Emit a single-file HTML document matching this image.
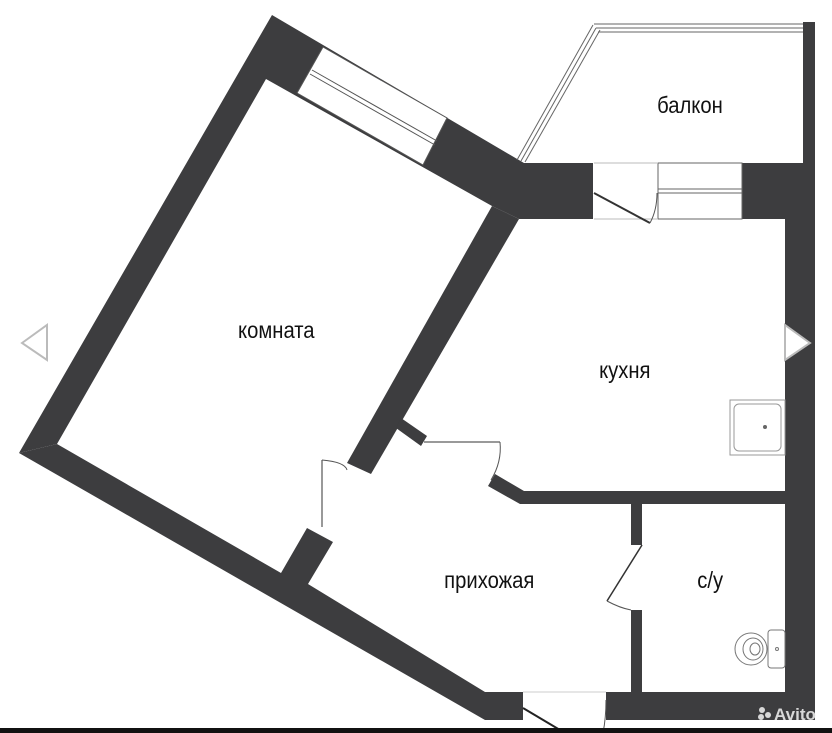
<!DOCTYPE html>
<html><head><meta charset="utf-8"><style>
html,body{margin:0;padding:0;background:#fff;}
svg{display:block;}
text{font-family:"Liberation Sans",sans-serif;fill:#111;}
</style></head><body>
<svg width="832" height="733" viewBox="0 0 832 733" xmlns="http://www.w3.org/2000/svg">
<rect width="832" height="733" fill="#fff"/>
<g fill="#3d3d3f">
<polygon points="272,15 524,163 593,163 593,219 519,219 492,206 266,79 57,444 19,453"/>
<polygon points="19,453 57,444 281,573 307,528 333,542 308,584 485,692 523,692 523,720 485,720"/>
<polygon points="492,206 519,219 371,474 347,463"/>
<polygon points="401,418 427,436 421,446 396,428"/>
<polygon points="495,474 524,491 785,491 785,504 520,504 488,486"/>
<rect x="631" y="504" width="11" height="41"/>
<rect x="631" y="610" width="11" height="82"/>
<rect x="606" y="692" width="209" height="28"/>
<rect x="785" y="163" width="30" height="557"/>
<rect x="803" y="22" width="12" height="145"/>
<rect x="742" y="163" width="50" height="56"/>
</g>
<polygon points="323,47 447,118 423,165 297,93" fill="#fff" stroke="#555" stroke-width="1"/>
<line x1="312" y1="70" x2="437" y2="141" stroke="#555" stroke-width="1"/>
<line x1="310" y1="74" x2="435" y2="145" stroke="#555" stroke-width="1"/>
<g stroke="#666" stroke-width="1" fill="none">
<line x1="594" y1="24" x2="803" y2="24"/>
<line x1="596" y1="28" x2="803" y2="28"/>
<line x1="598" y1="32" x2="803" y2="32"/>
<line x1="593" y1="25" x2="517" y2="160"/>
<line x1="596" y1="28" x2="521" y2="161"/>
<line x1="600" y1="30" x2="525" y2="162"/>
<rect x="658" y="163" width="84" height="56" fill="#fff"/>
<line x1="658" y1="189" x2="742" y2="189"/>
<line x1="658" y1="193" x2="742" y2="193"/>
<line x1="594" y1="163" x2="658" y2="163" stroke="#bbb"/>
<line x1="594" y1="219" x2="658" y2="219" stroke="#bbb"/>
<rect x="730" y="400" width="55" height="55" stroke="#999"/>
<rect x="734" y="404" width="47" height="47" rx="5" stroke="#999"/>
<rect x="768" y="630" width="17" height="38" rx="3" stroke="#777"/>
<ellipse cx="751" cy="649" rx="16" ry="16" stroke="#777"/>
<ellipse cx="753" cy="649" rx="10" ry="11" stroke="#777"/>
<ellipse cx="755" cy="649" rx="5" ry="6" stroke="#777"/>
<line x1="322" y1="460" x2="322" y2="527" stroke="#333"/>
<path d="M322,460 Q345,462 347,470" stroke="#555"/>
<line x1="424" y1="442" x2="500" y2="442" stroke="#333"/>
<path d="M500,442 Q502,462 491,480" stroke="#555"/>
<line x1="642" y1="545" x2="607" y2="601" stroke="#333" stroke-width="1.5"/>
<path d="M607,601 Q620,608 631,610" stroke="#555"/>
<line x1="523" y1="708" x2="565" y2="733" stroke="#222" stroke-width="2"/>
<path d="M606,700 Q606,718 603,733" stroke="#555"/>
<line x1="523" y1="692" x2="606" y2="692" stroke="#ccc"/>
</g>
<line x1="594" y1="193" x2="650" y2="223" stroke="#333" stroke-width="2"/>
<path d="M650,223 Q657,210 657,193" stroke="#555" fill="none"/>
<circle cx="765" cy="427" r="2" fill="#666"/>
<circle cx="777" cy="649" r="1.5" fill="none" stroke="#777"/>
<g transform="scale(0.88,1)">
<text x="314" y="338" font-size="23" text-anchor="middle">комната</text>
<text x="784" y="113" font-size="23" text-anchor="middle">балкон</text>
<text x="710" y="378" font-size="23" text-anchor="middle">кухня</text>
<text x="556" y="588" font-size="23" text-anchor="middle">прихожая</text>
<text x="807" y="588" font-size="23" text-anchor="middle">с/у</text>
</g>
<polygon points="22,343 47,325 47,360" fill="#fff" stroke="#bbb" stroke-width="2"/>
<polygon points="810,343 785,325 785,360" fill="#fff" stroke="#bbb" stroke-width="2"/>
<text x="774" y="720" font-size="17" font-weight="bold" style="fill:#d8d8d8">Avito</text>
<circle cx="762" cy="710" r="3" fill="#d8d8d8"/><circle cx="768" cy="715" r="3" fill="#d8d8d8"/><circle cx="761" cy="717" r="3" fill="#d8d8d8"/>
<rect x="0" y="728" width="832" height="5" fill="#111"/>
</svg>
</body></html>
